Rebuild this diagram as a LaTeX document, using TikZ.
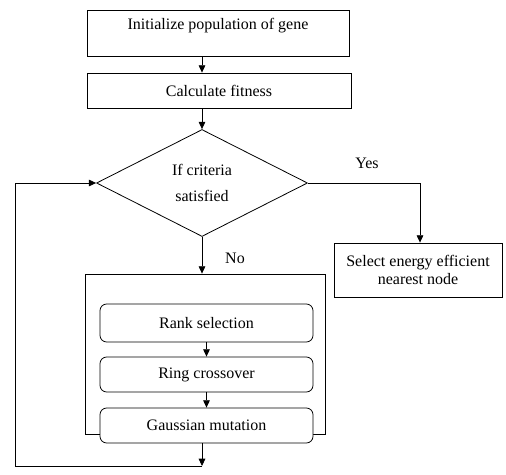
\documentclass[tikz,border=0pt]{standalone}
\usepackage{fontspec}
\setmainfont{Liberation Serif}
\usetikzlibrary{shapes.geometric,arrows.meta}

\begin{document}
\begin{tikzpicture}[x=0.75pt, y=-0.75pt, line width=0.6pt,
	every node/.style={font=\fontsize{12pt}{13.5pt}\selectfont},
	>={Triangle[length=5.5pt,width=5pt]},
	box/.style={draw, rectangle, inner sep=0pt, align=center},
	stepbox/.style={draw, rounded corners=5pt, fill=white, inner sep=0pt, minimum width=159.75pt, minimum height=26.25pt}]
	\useasboundingbox (0,0) rectangle (506,474);
	\node[box, minimum width=196.5pt, minimum height=34.5pt, text height=8.25pt, text depth=12.75pt] (init) at (218,33) {Initialize population of gene};
	\node[box, minimum width=198pt, minimum height=26.25pt] (calc) at (219,90.5) {Calculate fitness};
	\node[draw, diamond, inner sep=0pt, minimum width=158.25pt, minimum height=80.25pt, align=center] (dec) at (202,183) {If criteria\\[6.5pt]satisfied};
	\node[box, minimum width=126pt, minimum height=40.5pt] (select) at (418,270) {Select energy efficient\\nearest node};
	\node[draw, minimum width=180pt, minimum height=120pt, inner sep=0pt] (ga) at (205,354) {};
	\node[stepbox, minimum height=28.5pt] (rank) at (206.5,323) {Rank selection};
	\node[stepbox] (ring) at (206.5,374.5) {Ring crossover};
	\node[stepbox] (gauss) at (206.5,425.5) {Gaussian mutation};
	\node at (367,163) {Yes};
	\node at (235,258) {No};
	\coordinate (back) at (202,466);
	\coordinate (loop) at (15,466);
	\draw[->] (init.south -| dec.north) -- (calc.north -| dec.north);
	\draw[->] (calc.south -| dec.north) -- (dec.north);
	\draw[->] (dec.east) -| ([xshift=1.5pt]select.north);
	\draw[->] (dec.south) -- (ga.north -| dec.south);
	\draw[->] (rank) -- (ring);
	\draw[->] (ring) -- (gauss);
	\draw[->] (gauss.south -| back) -- (back);
	\draw[->] (back) -- (loop) |- (dec.west);
\end{tikzpicture}
\end{document}
